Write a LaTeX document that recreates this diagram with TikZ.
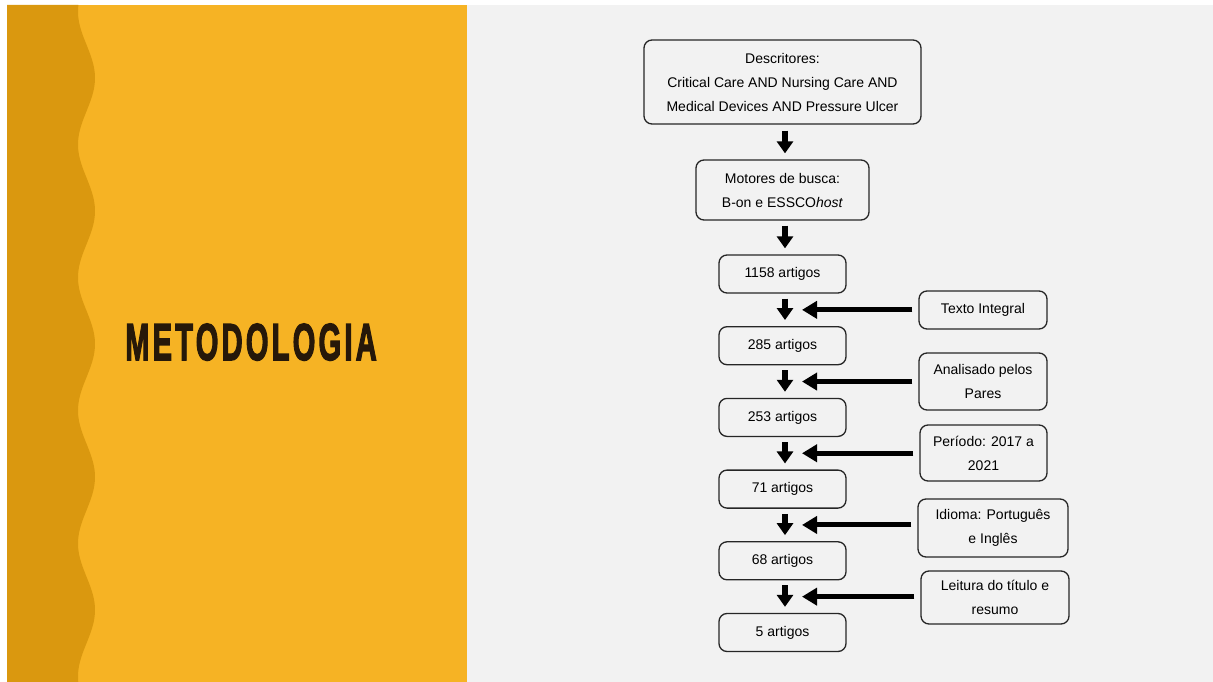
\documentclass[tikz,border=0pt]{standalone}
\usepackage{fontspec}
\setmainfont{Liberation Sans}
\newfontfamily\titlefont{Liberation Sans}[LetterSpace=11,FakeBold=3]
\usetikzlibrary{arrows.meta}

\definecolor{stripe}{HTML}{DA980F}
\definecolor{panel}{HTML}{F6B324}
\definecolor{sheet}{HTML}{F2F2F2}
\definecolor{ink}{HTML}{261809}
\definecolor{edge}{HTML}{262626}

\tikzset{
  stagebox/.style={draw=edge, line width=1.3pt, rounded corners=8pt, fill=sheet,
    inner sep=0pt, align=center, font=\fontsize{14}{24}\selectfont},
  downarrow/.style={line width=5.5pt, -{Triangle[width=16pt,length=12pt]},
    shorten <=5pt, shorten >=6pt},
  sidearrow/.style={line width=5pt, -{Triangle[width=17pt,length=15pt]}},
}

\begin{document}
\begin{tikzpicture}[x=1pt,y=-1pt]
\useasboundingbox (0,0) rectangle (1213,682);
\fill[white] (0,0) rectangle (1213,682);

% panels
\fill[sheet] (467,5) rectangle (1213,682);
\fill[panel] (7,5) rectangle (467,682);
% wavy band on the left edge (period 133)
\fill[stripe] (7,5) -- plot[domain=5:682, samples=240, variable=\t]
  ({86.5+8.5*cos((\t-78)*2.70677)}, {\t}) -- (7,682) -- cycle;

% title
\node[anchor=base, text=ink, inner sep=0pt] (title) at (251,360)
  {\scalebox{0.56}[1]{\fontsize{52}{52}\titlefont\bfseries METODOLOGIA}};

% main column
\node[stagebox, minimum width=277pt, minimum height=84pt] (desc) at (782.5,82)
  {Descritores:\\Critical Care AND Nursing Care AND\\Medical Devices AND Pressure Ulcer};
\node[stagebox, minimum width=173pt, minimum height=60pt] (motor) at (782.5,190)
  {Motores de busca:\\B-on e ESSCO\textit{host}};
\node[stagebox, minimum width=127pt, minimum height=38pt] (n1158) at (782.5,274) {1158 artigos};
\node[stagebox, minimum width=127pt, minimum height=38pt] (n285) at (782.5,345.7) {285 artigos};
\node[stagebox, minimum width=127pt, minimum height=38pt] (n253) at (782.5,417.4) {253 artigos};
\node[stagebox, minimum width=127pt, minimum height=38pt] (n71) at (782.5,489.1) {71 artigos};
\node[stagebox, minimum width=127pt, minimum height=38pt] (n68) at (782.5,560.8) {68 artigos};
\node[stagebox, minimum width=127pt, minimum height=38pt] (n5) at (782.5,632.5) {5 artigos};

% filter criteria
\node[stagebox, minimum width=128pt, minimum height=38pt] (fulltext) at (983,310) {Texto Integral};
\node[stagebox, minimum width=128pt, minimum height=57pt] (peer) at (983,381.5) {Analisado pelos\\Pares};
\node[stagebox, minimum width=127pt, minimum height=56pt] (period) at (983.5,453) {Período: 2017 a\\2021};
\node[stagebox, minimum width=150pt, minimum height=58pt] (lang) at (993,528) {Idioma: Português\\e Inglês};
\node[stagebox, minimum width=148pt, minimum height=53pt] (reading) at (995,597.5) {Leitura do título e\\resumo};

% vertical flow
\draw[downarrow, shorten <=6pt] ([xshift=2.5pt]desc.south) -- ([xshift=2.5pt]motor.north);
\draw[downarrow] ([xshift=2.5pt]motor.south) -- ([xshift=2.5pt]n1158.north);
\foreach \a/\b/\g in {n1158/n285/g1, n285/n253/g2, n253/n71/g3, n71/n68/g4, n68/n5/g5}{
  \draw[downarrow] ([xshift=2.5pt]\a.south) -- ([xshift=2.5pt]\b.north);
  \path ([xshift=2.5pt]\a.south) -- ([xshift=2.5pt]\b.north) coordinate[midway] (\g);
}

% criteria feeding the flow
\foreach \c/\g in {fulltext/g1, peer/g2, period/g3, lang/g4, reading/g5}{
  \draw[sidearrow] ([xshift=-6pt]\c.west |- \g) -- ([xshift=17pt]\g);
}
\end{tikzpicture}
\end{document}
